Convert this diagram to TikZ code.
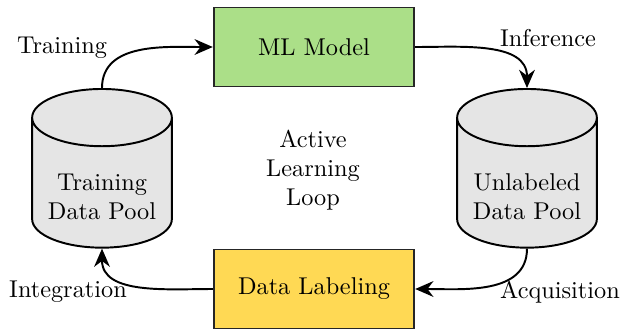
\documentclass[tikz,border=0pt]{standalone}
\usetikzlibrary{shapes.geometric,arrows.meta}
\definecolor{mlgreen}{RGB}{171,223,136}
\definecolor{dlyellow}{RGB}{255,217,84}
\tikzset{
  px/.style={x=0.4115pt,y=-0.4115pt},
  procbox/.style={draw=black!85,thick,minimum width=82.5pt,minimum height=32.5pt,inner sep=0pt},
  pool/.style={cylinder,shape border rotate=90,aspect=0.53,draw,thick,fill=gray!20,
    minimum width=57.5pt,minimum height=65.3pt,inner sep=0pt,anchor=north},
  flow/.style={thick,-{Stealth[length=7.5pt,width=6.5pt]}},
  lbl/.style={inner sep=0pt,align=center}
}
\begin{document}
\begin{tikzpicture}[px]
\useasboundingbox (0,0) rectangle (621,330);
\node[procbox,fill=mlgreen] (ml) at (314,47) {ML Model};
\node[procbox,fill=dlyellow] (dl) at (314,289) {Data Labeling};
\node[pool] (tp) at (102,88) {\phantom{\shortstack{Training\\Data Pool}}};
\node[pool] (up) at (527,88) {\phantom{\shortstack{Unlabeled\\Data Pool}}};
\node[lbl] (tptext) at (102,197) {Training\\Data Pool};
\node[lbl] (uptext) at (527,197) {Unlabeled\\Data Pool};
\node[lbl] (center) at (313,170) {Active\\Learning\\Loop};
\node[lbl] (ltrain) at (62,48) {Training};
\node[lbl] (linf) at (548,38) {Inference};
\node[lbl] (lint) at (68,292) {Integration};
\node[lbl] (lacq) at (560,292) {Acquisition};
\draw[flow] (tp.north) to[out=90,in=180] (ml.west);
\draw[flow] (ml.east) to[out=0,in=90] (up.north);
\draw[flow] (up.south) to[out=-90,in=0] (dl.east);
\draw[flow] (dl.west) to[out=180,in=-90] (tp.south);
\end{tikzpicture}
\end{document}
